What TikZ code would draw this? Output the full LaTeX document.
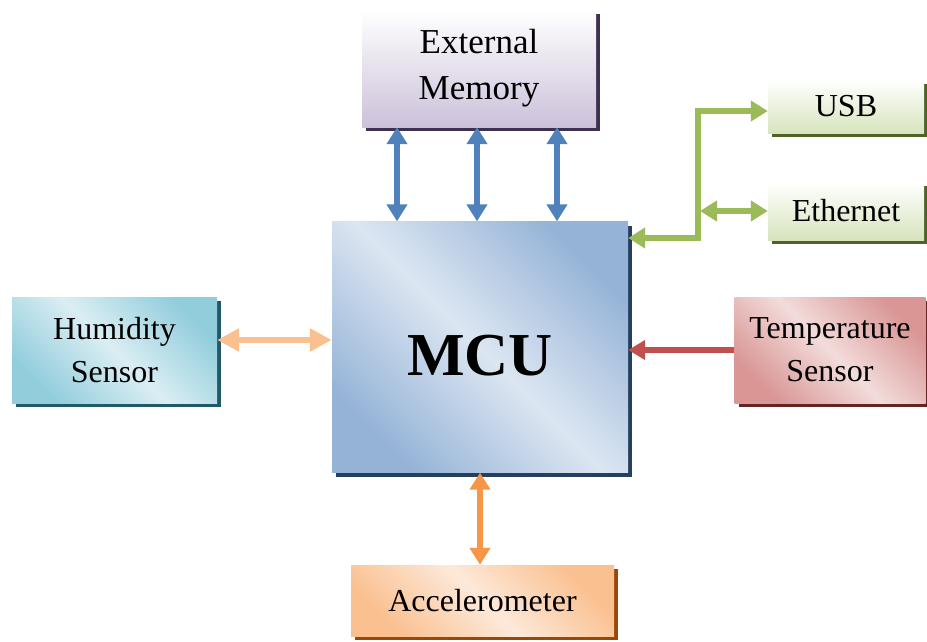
\documentclass[tikz,border=0pt]{standalone}
\usepackage{fontspec}
\setmainfont{Liberation Serif}
\usetikzlibrary{arrows.meta,shadows}
\definecolor{mcudark}{HTML}{95B3D7}
\definecolor{mculight}{HTML}{DCE6F2}
\definecolor{mcushad}{HTML}{243F60}
\definecolor{memc}{HTML}{CCC1DA}
\definecolor{memshad}{HTML}{3F3151}
\definecolor{grnc}{HTML}{D7E4BD}
\definecolor{grnshad}{HTML}{4F6228}
\definecolor{humdark}{HTML}{92CDDC}
\definecolor{humlight}{HTML}{DAEEF3}
\definecolor{humshad}{HTML}{215968}
\definecolor{tmpdark}{HTML}{D99694}
\definecolor{tmplight}{HTML}{F2DCDB}
\definecolor{tmpshad}{HTML}{632423}
\definecolor{accdark}{HTML}{FAC090}
\definecolor{acclight}{HTML}{FDE9D9}
\definecolor{accshad}{HTML}{984807}
\definecolor{arrblue}{HTML}{4F81BD}
\definecolor{arrgreen}{HTML}{9BBB59}
\definecolor{arrpeach}{HTML}{FAC090}
\definecolor{arrred}{HTML}{C0504D}
\definecolor{arrorange}{HTML}{F79646}
\begin{document}
\begin{tikzpicture}[x=1pt,y=-1pt,
  box/.style={inner sep=0pt, align=center, font=\fontsize{32}{43}\selectfont},
  shad/.style={drop shadow={fill=#1, opacity=1, shadow xshift=4pt, shadow yshift=-4pt}},
  diag/.style n args={2}{top color=#1, bottom color=#1, middle color=#2, shading angle=-45},
  vert/.style={top color=white, bottom color=#1},
  biarr/.style={line width=6pt, draw=#1, arrows={Triangle[width=20pt,length=17pt]-Triangle[width=20pt,length=17pt]}},
  onearr/.style={line width=6pt, draw=#1, arrows={-Triangle[width=19pt,length=17pt]}}
]
\useasboundingbox (0,0) rectangle (927,641);

% boxes
\node[box, shad=mcushad, diag={mcudark}{mculight}, minimum width=296pt, minimum height=251pt,
  label={[yshift=-9pt, font=\fontsize{61}{61}\selectfont\bfseries]center:MCU}] (mcu) at (480,347) {};
\node[box, shad=memshad, vert=memc, minimum width=234pt, minimum height=117pt, font=\fontsize{35}{46}\selectfont] (mem) at (479,68.5) {External\\Memory};
\node[box, shad=grnshad, vert=grnc, minimum width=156pt, minimum height=53pt] (usb) at (846,106.5) {USB};
\node[box, shad=grnshad, vert=grnc, minimum width=156pt, minimum height=58pt] (eth) at (846,211) {Ethernet};
\node[box, shad=humshad, diag={humdark}{humlight}, minimum width=205pt, minimum height=106pt] (hum) at (114.5,350) {Humidity\\Sensor};
\node[box, shad=tmpshad, diag={tmpdark}{tmplight}, minimum width=191pt, minimum height=106pt] (tmp) at (830,350) {Temperature\\Sensor};
\node[box, shad=accshad, diag={accdark}{acclight}, minimum width=263pt, minimum height=71pt] (acc) at (482.5,600.5) {Accelerometer};

% memory bus
\foreach \dx in {-83,-3,77}{
  \draw[biarr=arrblue] ([xshift=\dx pt]mcu.north |- mem.south) -- ([xshift=\dx pt]mcu.north);
}

% communication bus
\coordinate (g1) at (698,238);
\coordinate (g2) at (698,111);
\draw[biarr=arrgreen] (mcu.east |- g1) -- (g1) -- (g2) -- (g2 -| usb.west);
\draw[biarr=arrgreen] ([xshift=2pt]g1 |- eth.west) -- (eth.west);

% sensors
\draw[biarr=arrpeach, arrows={Triangle[width=22pt,length=22pt]-Triangle[width=22pt,length=22pt]}]
  ([yshift=10pt]hum.east) -- ([yshift=10pt]hum.east -| mcu.west);
\draw[onearr=arrred] (tmp.west) -- (tmp.west -| mcu.east);
\draw[biarr=arrorange] (mcu.south) -- (mcu.south |- acc.north);
\end{tikzpicture}
\end{document}
